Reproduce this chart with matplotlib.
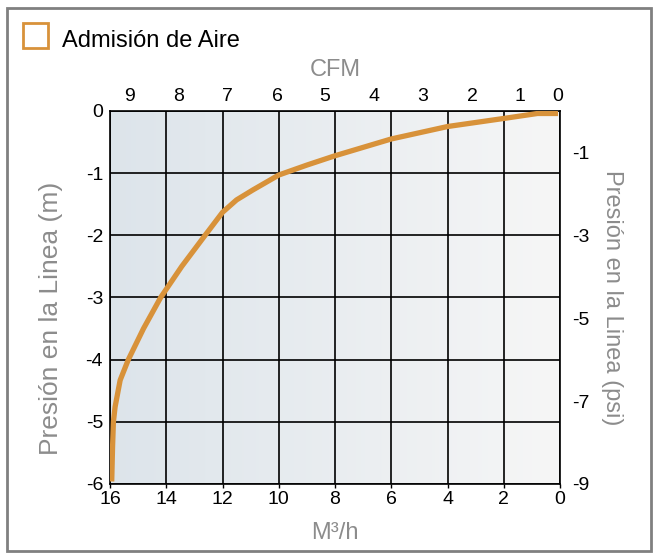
import numpy as np
import matplotlib.pyplot as plt
from matplotlib.patches import Rectangle

plt.rcParams['font.family'] = ['Liberation Sans', 'DejaVu Sans']
plt.rcParams['axes.unicode_minus'] = False

# curve: flow (M3/h) vs line pressure (m)
flow = [0.07, 0.8, 2, 4, 6, 8, 9, 10, 10.92, 11.5, 12, 12.62, 13.45, 14.2, 14.81,
        15.35, 15.64, 15.82, 15.88, 15.91, 15.94]
pressure = [-0.04, -0.04, -0.12, -0.25, -0.45, -0.72, -0.87, -1.03, -1.27, -1.43, -1.63,
            -2.0, -2.5, -3.0, -3.5, -4.0, -4.33, -4.76, -5.0, -5.4, -5.96]

m3h_ticks = [16, 14, 12, 10, 8, 6, 4, 2, 0]
m_ticks = [0, -1, -2, -3, -4, -5, -6]
psi_ticks = [-1, -3, -5, -7, -9]
cfm_labels = ['9', '8', '7', '6', '5', '4', '3', '2', '1', '0']
cfm_pos = [15.29, 13.55, 11.84, 10.06, 8.36, 6.61, 4.87, 3.13, 1.42, 0.07]

orange = '#D8923A'
grey = '#8C8C8C'
tick_size = 14

fig = plt.figure(figsize=(6.53, 5.53), dpi=100)
ax = fig.add_axes([0.1685, 0.1248, 0.6891, 0.6745])

# background gradient, blue-grey on the left fading to white on the right
grad = np.linspace(0, 1, 256).reshape(1, -1)
c0 = np.array([0.865, 0.895, 0.92])
c1 = np.array([0.965, 0.965, 0.965])
img = c0 + (c1 - c0) * grad[..., None]
ax.imshow(img, extent=[16, 0, -6, 0], aspect='auto', zorder=0)

ax.set_xlim(16, 0)
ax.set_ylim(-6, 0)
ax.set_xticks(m3h_ticks)
ax.set_yticks(m_ticks)
ax.grid(True, color='black', lw=1.2, zorder=1)
ax.tick_params(axis='x', length=3, width=1, pad=2, labelsize=tick_size)
ax.tick_params(axis='y', length=0, pad=5, labelsize=tick_size)
for s in ax.spines.values():
    s.set_color('black')
    s.set_linewidth(1.2)

ax.plot(flow, pressure, color=orange, lw=3.8, solid_joinstyle='round', solid_capstyle='butt', zorder=3)

ax.set_xlabel('M³/h', color=grey, fontsize=17, labelpad=10)
ax.set_ylabel('Presión en la Linea (m)', color=grey, fontsize=19)
ax.yaxis.set_label_coords(-0.105, 0.445)

# top CFM axis
axt = ax.twiny()
axt.set_xlim(16, 0)
axt.set_xticks(cfm_pos)
axt.set_xticklabels(cfm_labels)
axt.tick_params(axis='x', length=0, pad=4, labelsize=tick_size)
axt.set_xlabel('CFM', color=grey, fontsize=17)
axt.xaxis.set_label_coords(0.5, 1.095)

# right psi axis
axr = ax.twinx()
axr.set_ylim(-9, 0)
axr.set_yticks(psi_ticks)
axr.tick_params(axis='y', length=0, pad=9, labelsize=tick_size)
axr.set_ylabel('Presión en la Linea (psi)', color=grey, fontsize=17, rotation=270, labelpad=24)
for a in (axt, axr):
    for s in a.spines.values():
        s.set_visible(False)

# legend box
fig.patches.append(Rectangle((23 / 653, 1 - 48 / 553), 25 / 653, 25 / 553, transform=fig.transFigure,
                             fill=False, edgecolor=orange, lw=2))
fig.text(62 / 653, 1 - 41 / 553, 'Admisión de Aire', fontsize=17, va='center', ha='left')

# outer frame
fig.patches.append(Rectangle((7 / 653, 2 / 553), 644 / 653, 543 / 553, transform=fig.transFigure,
                             fill=False, edgecolor='#808080', lw=2))

fig.savefig('out.png', dpi=100)
